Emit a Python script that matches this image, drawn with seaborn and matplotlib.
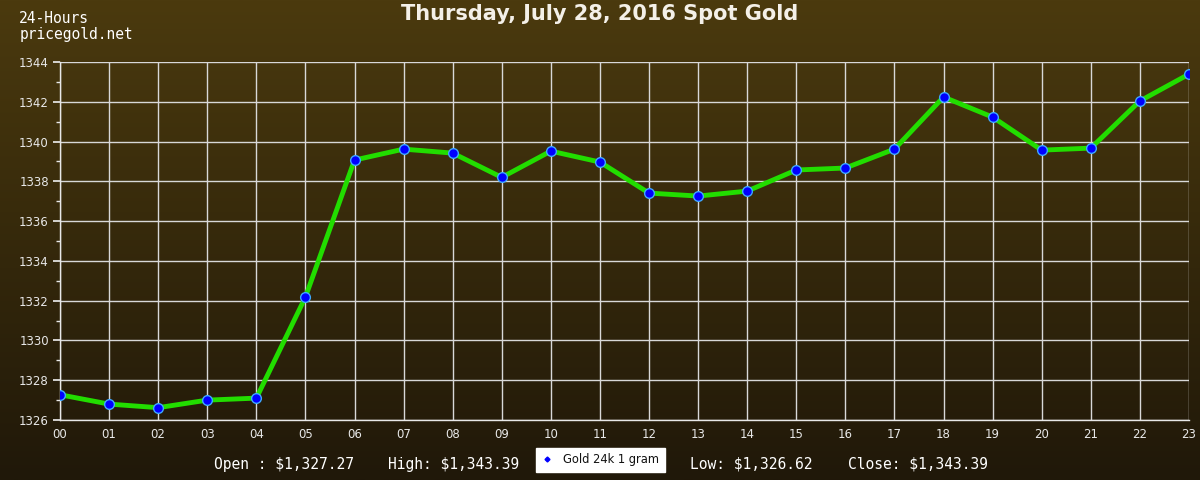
import numpy as np
import pandas as pd
import matplotlib
matplotlib.use("Agg")
import matplotlib.pyplot as plt
from matplotlib.lines import Line2D
import seaborn as sns

hours = ["00", "01", "02", "03", "04", "05", "06", "07", "08", "09", "10", "11",
         "12", "13", "14", "15", "16", "17", "18", "19", "20", "21", "22", "23"]
prices = [1327.27, 1326.80, 1326.62, 1327.00, 1327.10, 1332.18, 1339.07, 1339.62,
          1339.42, 1338.20, 1339.52, 1338.97, 1337.41, 1337.26, 1337.51, 1338.57,
          1338.67, 1339.62, 1342.24, 1341.23, 1339.57, 1339.67, 1342.04, 1343.39]
y_ticks = [1326, 1328, 1330, 1332, 1334, 1336, 1338, 1340, 1342, 1344]
title = "Thursday, July 28, 2016 Spot Gold"
legend_label = "Gold 24k 1 gram"
stat_open = "Open : $1,327.27"
stat_high = "High: $1,343.39"
stat_low = "Low: $1,326.62"
stat_close = "Close: $1,343.39"

sns.set_theme(style="dark")
plt.rcParams["font.family"] = ["DejaVu Sans"]
plt.rcParams["text.parse_math"] = False

fig = plt.figure(figsize=(12, 4.8), dpi=100)

# background gradient
bg = fig.add_axes([0, 0, 1, 1], zorder=-10)
top = np.array([0x4b, 0x3a, 0x0e]) / 255
bot = np.array([0x20, 0x18, 0x09]) / 255
t = np.linspace(0, 1, 256)[:, None]
grad = (top[None, :] * (1 - t) + bot[None, :] * t)[:, None, :]
bg.imshow(grad, aspect="auto", extent=[0, 1, 0, 1])
bg.set_axis_off()

ax = fig.add_axes([0.05, 0.125, 0.9408, 0.7458])
ax.set_facecolor("none")

df = pd.DataFrame({"x": np.arange(len(hours)), "price": prices})
sns.lineplot(data=df, x="x", y="price", ax=ax, color="#22dd00", linewidth=3.5,
             marker="o", markersize=7, markerfacecolor="#0000ff",
             markeredgecolor="#3fa9ff", markeredgewidth=1, zorder=3)

ax.set_xlim(0, len(hours) - 1)
ax.set_ylim(1326, 1344)
ax.set_xticks(np.arange(len(hours)))
ax.set_xticklabels(hours)
ax.set_yticks(y_ticks)
ax.set_yticks(np.arange(1327, 1344, 2), minor=True)
ax.set_xlabel("")
ax.set_ylabel("")
ax.grid(True, which="major", color="#d8d8d8", linewidth=1)
ax.grid(False, which="minor")
for s in ["left", "bottom"]:
    ax.spines[s].set_visible(True)
    ax.spines[s].set_color("#e8e8e8")
    ax.spines[s].set_linewidth(1)
for s in ["top", "right"]:
    ax.spines[s].set_visible(False)
ax.tick_params(axis="y", which="major", left=True, length=5, color="#e8e8e8",
               labelcolor="#e8e8e8", labelsize=8.5, pad=3)
ax.tick_params(axis="y", which="minor", left=True, length=3, color="#e8e8e8")
ax.tick_params(axis="x", which="major", bottom=False, length=0,
               labelcolor="#e8e8e8", labelsize=8.5, pad=6)

fig.text(0.5, 0.97, title, ha="center", va="center", color="#f4f0e8",
         fontsize=15, fontweight="bold", family="DejaVu Sans")
fig.text(0.016, 0.961, "24-Hours", ha="left", va="center", color="white",
         fontsize=10.5, family="DejaVu Sans Mono")
fig.text(0.016, 0.929, "pricegold.net", ha="left", va="center", color="white",
         fontsize=10.5, family="DejaVu Sans Mono")

fig.text(0.178, 0.033, stat_open, ha="left", va="center", color="white",
         fontsize=10.5, family="DejaVu Sans Mono")
fig.text(0.433, 0.033, stat_high, ha="right", va="center", color="white",
         fontsize=10.5, family="DejaVu Sans Mono")
fig.text(0.575, 0.033, stat_low, ha="left", va="center", color="white",
         fontsize=10.5, family="DejaVu Sans Mono")
fig.text(0.823, 0.033, stat_close, ha="right", va="center", color="white",
         fontsize=10.5, family="DejaVu Sans Mono")

handle = Line2D([], [], linestyle="none", marker="D", markersize=2.5,
                markerfacecolor="#0000ff", markeredgecolor="#0000ff")
leg = fig.legend([handle], [legend_label], loc="center", bbox_to_anchor=(0.5004, 0.0417),
                 frameon=True, fancybox=False, fontsize=8.3, handlelength=1.0,
                 handletextpad=0.9, borderpad=0.45, labelcolor="#111111")
leg.get_frame().set_facecolor("white")
leg.get_frame().set_edgecolor("white")
leg.get_frame().set_alpha(1)

fig.savefig("out.png", dpi=100)
